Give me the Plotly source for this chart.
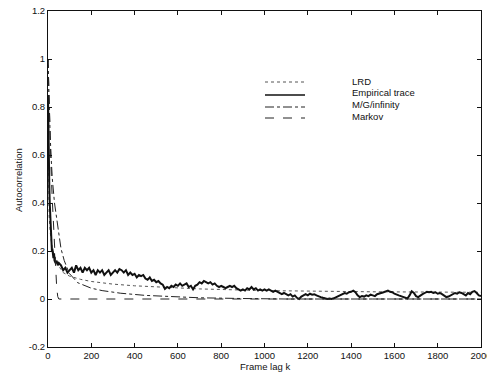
import plotly.graph_objects as go

# ---------------- data ----------------
lrd_k = [0, 1, 3, 5, 10, 20, 40, 70, 100, 150, 200, 300, 400, 500, 700, 1000, 1200, 1500, 2000]
lrd_val = [1.0, 0.62, 0.42, 0.35, 0.28, 0.21, 0.15, 0.11, 0.095, 0.082, 0.073, 0.062, 0.055, 0.05, 0.042, 0.035, 0.032, 0.03, 0.028]

mg_k = [0, 5, 10, 15, 20, 30, 45, 60, 75, 98, 137, 170, 200, 250, 336, 450, 550, 700, 900, 1100, 1500, 2000]
mg_val = [1.0, 0.8, 0.68, 0.58, 0.5, 0.4, 0.3, 0.21, 0.16, 0.107, 0.068, 0.055, 0.045, 0.035, 0.024, 0.015, 0.01, 0.005, 0.002, 0.0, 0.0, 0.0]

markov_k = [0, 5, 10, 15, 20, 25, 30, 35, 40, 45, 50, 100, 500, 1000, 1500, 2000]
markov_val = [1.0, 0.8, 0.65, 0.52, 0.41, 0.31, 0.22, 0.13, 0.05, 0.01, 0.0, 0.0, 0.0, 0.0, 0.0, 0.0]

emp_k_early = [0, 2, 4, 6, 8, 10, 12, 14, 16, 18, 20, 22, 25, 28, 30, 35, 40, 45, 50]
emp_val_early = [0.85, 0.62, 0.52, 0.47, 0.40, 0.35, 0.30, 0.26, 0.22, 0.20, 0.21, 0.18, 0.17, 0.19, 0.16, 0.15, 0.16, 0.14, 0.15]

emp_k_rest = list(range(60, 2001, 10))
emp_val_rest = [
    0.14, 0.12, 0.13, 0.11, 0.12, 0.13, 0.11, 0.14, 0.12, 0.13,   # 60-150
    0.11, 0.13, 0.12, 0.13, 0.11, 0.12, 0.10, 0.12, 0.11, 0.12,   # 160-250
    0.10, 0.11, 0.12, 0.10, 0.11, 0.12, 0.11, 0.125, 0.12, 0.11,  # 260-350
    0.12, 0.10, 0.11, 0.10, 0.105, 0.09, 0.10, 0.095, 0.10, 0.085,  # 360-450
    0.08, 0.09, 0.075, 0.08, 0.07, 0.075, 0.065, 0.06, 0.042, 0.05,  # 460-550
    0.045, 0.055, 0.05, 0.06, 0.055, 0.065, 0.055, 0.06, 0.065, 0.05,  # 560-650
    0.055, 0.04, 0.055, 0.06, 0.07, 0.065, 0.075, 0.07, 0.065, 0.07,  # 660-750
    0.06, 0.065, 0.055, 0.05, 0.055, 0.05, 0.045, 0.05, 0.055, 0.05,  # 760-850
    0.055, 0.045, 0.04, 0.035, 0.04, 0.035, 0.045, 0.04, 0.05, 0.04,  # 860-950
    0.045, 0.035, 0.04, 0.035, 0.04, 0.035, 0.04, 0.035, 0.03, 0.035,  # 960-1050
    0.03, 0.025, 0.02, 0.025, 0.02, 0.015, 0.02, 0.01, 0.015, 0.005,  # 1060-1150
    0.0, 0.01, 0.015, 0.02, 0.015, 0.022, 0.018, 0.02, 0.015, 0.01,  # 1160-1250
    0.008, 0.005, 0.003, 0.0, 0.002, 0.0, 0.003, 0.008, 0.012, 0.015,  # 1260-1350
    0.02, 0.025, 0.022, 0.028, 0.03, 0.035, 0.028, 0.015, 0.008, 0.012,  # 1360-1450
    0.01, 0.015, 0.012, 0.018, 0.015, 0.012, 0.02, 0.022, 0.025, 0.028,  # 1460-1550
    0.032, 0.035, 0.03, 0.028, 0.022, 0.02, 0.015, 0.012, 0.008, 0.005,  # 1560-1650
    0.002, 0.015, 0.032, 0.025, 0.012, 0.008, 0.015, 0.02, 0.025, 0.03,  # 1660-1750
    0.028, 0.03, 0.025, 0.028, 0.022, 0.025, 0.02, 0.015, 0.008, 0.01,  # 1760-1850
    0.015, 0.02, 0.025, 0.022, 0.028, 0.025, 0.02, 0.015, 0.025, 0.02,  # 1860-1950
    0.03, 0.033, 0.025, 0.015, 0.012,  # 1960-2000
]

emp_k = emp_k_early + emp_k_rest
emp_val = emp_val_early + emp_val_rest

series_names = ["LRD", "Empirical trace", "M/G/infinity", "Markov"]
series_dash = ["dot", "solid", "dashdot", "dash"]
series_width = [1, 2, 1, 1]
series_color = ["#555555", "#111111", "#222222", "#222222"]

x_ticks = list(range(0, 2001, 200))
y_ticks = [-0.2, 0, 0.2, 0.4, 0.6, 0.8, 1, 1.2]
y_ticktext = ["-0.2", "0", "0.2", "0.4", "0.6", "0.8", "1", "1.2"]

# ---------------- figure ----------------
FONT = "Liberation Sans, Arial, Helvetica, sans-serif"
INK = "#111111"
fig = go.Figure()

data = [(lrd_k, lrd_val), (emp_k, emp_val), (mg_k, mg_val), (markov_k, markov_val)]
for (kx, vy), name, dash, w, c in zip(data, series_names, series_dash, series_width, series_color):
    fig.add_trace(go.Scatter(x=kx, y=vy, mode="lines", name=name,
                             line=dict(color=c, width=w, dash=dash),
                             showlegend=False, hoverinfo="skip"))

# geometry (the page body margin is removed below, so page pixels = figure pixels)
W, H = 487, 375
PL, PR, PT, PB = 48, 481, 11, 347          # wanted plot box in page pixels
ml, mt = PL, PT
pw, ph = PR - PL, PB - PT
mr, mb = W - ml - pw, H - mt - ph


def px_x(p):
    return (p - PL) / pw


def px_y(p):
    return (PB - p) / ph


# legend drawn inside the axes box
leg_line_y = [82, 95, 107, 118]
leg_text_y = [81, 92.5, 104, 116.5]
for name, dash, w, c, ly, ty in zip(series_names, series_dash, series_width, series_color,
                                     leg_line_y, leg_text_y):
    fig.add_shape(type="line", xref="paper", yref="paper",
                  x0=px_x(265), x1=px_x(305), y0=px_y(ly), y1=px_y(ly),
                  line=dict(color=c, width=min(w, 1.6), dash=dash))
    fig.add_annotation(xref="paper", yref="paper", x=px_x(350), y=px_y(ty),
                       text=name, showarrow=False, xanchor="left", yanchor="middle",
                       font=dict(family=FONT, size=9.5, color=INK))

# axis titles
fig.add_annotation(xref="paper", yref="paper", x=px_x(265), y=px_y(366),
                   text="Frame lag k", showarrow=False, xanchor="center", yanchor="middle",
                   font=dict(family=FONT, size=9.5, color=INK))
fig.add_annotation(xref="paper", yref="paper", x=px_x(18), y=px_y(180),
                   text="Autocorrelation", showarrow=False, textangle=-90,
                   xanchor="center", yanchor="middle",
                   font=dict(family=FONT, size=9.5, color=INK))

axis_common = dict(showgrid=False, zeroline=False, showline=True, mirror="ticks",
                   linecolor=INK, linewidth=1, ticks="inside", ticklen=4,
                   tickcolor=INK, tickfont=dict(family=FONT, size=9.5, color=INK),
                   automargin=False, ticklabeloverflow="allow")

fig.update_xaxes(range=[0, 2000], tickvals=x_ticks, ticktext=[str(v) for v in x_ticks],
                 **axis_common)
fig.update_yaxes(range=[-0.2, 1.2], tickvals=y_ticks, ticktext=y_ticktext,
                 **axis_common)

fig.update_layout(width=W, height=H, margin=dict(l=ml, r=mr, t=mt, b=mb, autoexpand=False),
                  plot_bgcolor="white", paper_bgcolor="white",
                  font=dict(family=FONT, size=9.5, color=INK))

fig.write_html("out.html", config={"displayModeBar": False},
               post_script="document.body.style.margin='0';document.body.style.overflow='hidden';")
